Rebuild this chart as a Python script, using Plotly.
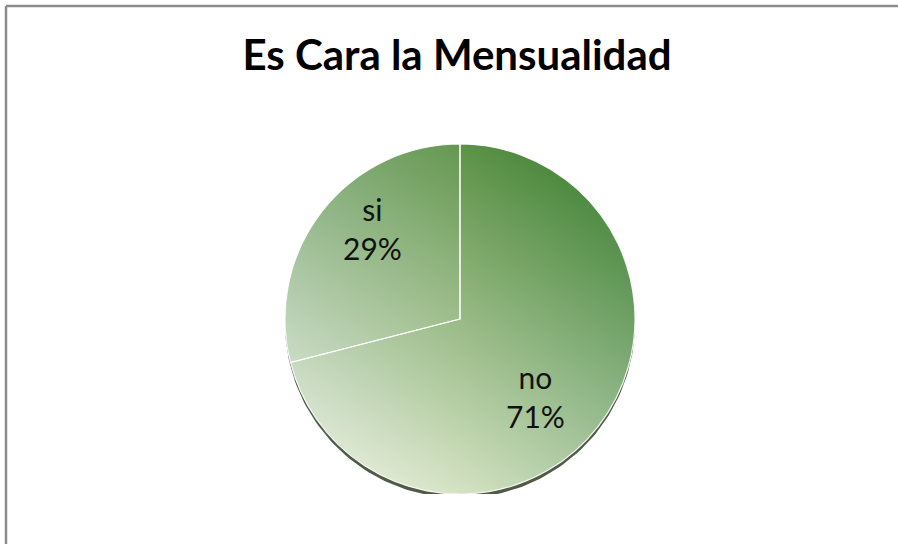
import numpy as np
import plotly.graph_objects as go

# ---- data ----
labels = ["no", "si"]
values = [71, 29]
title_text = "Es Cara la Mensualidad"

W, H = 898, 544
cx, cy, r = 460, 319, 175  # pie centre / radius in px
dom_x = [(cx - r) / W, (cx + r) / W]
dom_y = [(H - cy - r) / H, (H - cy + r) / H]

fig = go.Figure()

# decorative gradient backdrop (disc under transparent pie slices)
t = np.linspace(0, 2 * np.pi, 241)
ux, uy = np.cos(t), np.sin(t)
shift = 4 / r
fig.add_trace(go.Scatter(x=ux, y=uy - shift, fill="toself", mode="lines",
                         line=dict(width=0), fillcolor="#4f5a47",
                         hoverinfo="skip", showlegend=False))
fig.add_trace(go.Scatter(x=ux, y=uy, fill="toself", mode="lines",
                         line=dict(width=0),
                         fillgradient=dict(type="horizontal",
                                           colorscale=[[0, "#eaf0e0"], [0.5, "#a0bf7a"], [1, "#3e8330"]]),
                         hoverinfo="skip", showlegend=False))
fig.add_trace(go.Scatter(x=ux, y=uy, fill="toself", mode="lines",
                         line=dict(width=0),
                         fillgradient=dict(type="vertical",
                                           colorscale=[[0, "rgba(255,255,255,0.55)"],
                                                       [1, "rgba(38,110,30,0.55)"]]),
                         hoverinfo="skip", showlegend=False))

fig.add_trace(go.Pie(
    labels=labels, values=values, sort=False, direction="clockwise", rotation=0,
    domain=dict(x=dom_x, y=dom_y),
    marker=dict(colors=["rgba(0,0,0,0)", "rgba(255,255,255,0.05)"],
                line=dict(color="rgba(255,255,255,0.9)", width=1.2)),
    textinfo="none", hoverinfo="label+percent", showlegend=False,
))

# data labels placed along each slice's mid-angle (slightly rotated, like Excel best-fit)
total = sum(values)
radii = [0.62, 0.72]
angle_offset = np.deg2rad(8)
start = 0.0
annotations = []
for lab, v, rr in zip(labels, values, radii):
    mid = (start + v / 2) / total * 2 * np.pi + angle_offset  # clockwise from 12 o'clock
    start += v
    annotations.append(dict(
        x=rr * np.sin(mid), y=rr * np.cos(mid), xref="x", yref="y",
        text=f"{lab}<br>{round(100 * v / total)}%", showarrow=False,
        font=dict(family="Lato", size=30, color="#111111"), align="center",
    ))

fig.update_layout(
    width=W, height=H, margin=dict(l=0, r=0, t=0, b=0),
    paper_bgcolor="white", plot_bgcolor="rgba(0,0,0,0)",
    xaxis=dict(domain=dom_x, range=[-1, 1], visible=False, fixedrange=True),
    yaxis=dict(domain=dom_y, range=[-1, 1], visible=False, fixedrange=True),
    title=dict(text=title_text, x=457 / W, xanchor="center", y=1 - 55 / H, yanchor="middle",
               font=dict(family="Lato", size=42, color="#000000", weight="bold")),
    annotations=annotations,
    shapes=[
        dict(type="line", xref="paper", yref="paper", x0=6 / W, x1=1, y0=1 - 6 / H, y1=1 - 6 / H,
             line=dict(color="#8c8c8c", width=2.5)),
        dict(type="line", xref="paper", yref="paper", x0=6 / W, x1=6 / W, y0=0, y1=1 - 6 / H,
             line=dict(color="#8c8c8c", width=2.5)),
    ],
)

fig.write_html("out.html", config={"displayModeBar": False},
               post_script="document.body.style.margin='0';")
